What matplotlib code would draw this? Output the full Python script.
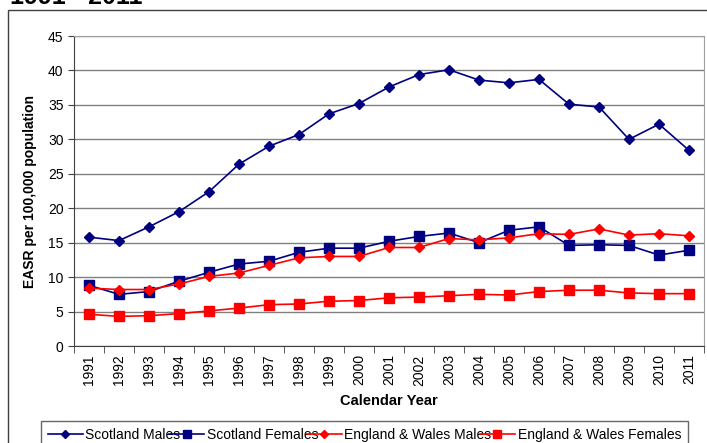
import matplotlib
matplotlib.use("Agg")
import matplotlib.pyplot as plt
from matplotlib.patches import Rectangle
from matplotlib.ticker import MultipleLocator, FixedLocator

plt.rcParams['font.family'] = ['Liberation Sans', 'DejaVu Sans']

years = [str(y) for y in range(1991, 2012)]
scotland_males = [15.8, 15.3, 17.3, 19.5, 22.4, 26.4, 29.0, 30.7, 33.7, 35.2, 37.6,
                  39.4, 40.1, 38.6, 38.2, 38.7, 35.1, 34.7, 30.0, 32.2, 28.4]
scotland_females = [8.8, 7.5, 7.9, 9.4, 10.7, 11.9, 12.3, 13.6, 14.2, 14.2, 15.2,
                    15.9, 16.4, 15.0, 16.8, 17.3, 14.6, 14.7, 14.6, 13.2, 13.9]
ew_males = [8.4, 8.2, 8.2, 9.0, 10.1, 10.6, 11.7, 12.8, 13.0, 13.0, 14.3,
            14.3, 15.6, 15.4, 15.7, 16.3, 16.2, 17.0, 16.1, 16.3, 16.0]
ew_females = [4.6, 4.3, 4.4, 4.7, 5.1, 5.5, 6.0, 6.1, 6.5, 6.6, 7.0,
              7.1, 7.3, 7.5, 7.4, 7.9, 8.1, 8.1, 7.7, 7.6, 7.6]

W, H = 707, 443
fig = plt.figure(figsize=(W / 100, H / 100), dpi=100)

# outer chart border
fig.patches.append(Rectangle((8 / W, -0.05), 1.2, (H - 10) / H + 0.05,
                             transform=fig.transFigure, fill=False,
                             edgecolor='#404040', linewidth=1.0, clip_on=False))

left, right, top, bottom = 74, 704, 36, 346
ax = fig.add_axes([left / W, (H - bottom) / H, (right - left) / W, (bottom - top) / H])

x = list(range(len(years)))
navy = '#000080'
red = '#FF0000'
ax.plot(x, scotland_males, color=navy, marker='D', markersize=5, lw=1.2, label='Scotland Males', zorder=4)
ax.plot(x, scotland_females, color=navy, marker='s', markersize=6.5, lw=1.2, label='Scotland Females', zorder=3)
ax.plot(x, ew_males, color=red, marker='D', markersize=5, lw=1.2, label='England & Wales Males', zorder=4)
ax.plot(x, ew_females, color=red, marker='s', markersize=6.5, lw=1.2, label='England & Wales Females', zorder=3)

ax.set_xlim(-0.5, len(years) - 0.5)
ax.set_ylim(0, 45)
ax.yaxis.set_major_locator(MultipleLocator(5))
ax.grid(axis='y', color='#808080', linewidth=1.0, zorder=0)
ax.set_axisbelow(True)

ax.set_xticks(x)
ax.set_xticklabels(years, rotation=90, fontsize=10)
ax.xaxis.set_minor_locator(FixedLocator([i - 0.5 for i in range(len(years) + 1)]))
ax.tick_params(axis='x', which='major', length=0, pad=6)
ax.tick_params(axis='x', which='minor', length=5, direction='out', color='#404040')
ax.tick_params(axis='y', length=4, direction='out', labelsize=10, color='#404040')

for s in ['top', 'right']:
    ax.spines[s].set_color('#a0a0a0')
for s in ['left', 'bottom']:
    ax.spines[s].set_color('#404040')

ax.set_xlabel('Calendar Year', fontsize=10.5, fontweight='bold', labelpad=6)
ax.set_ylabel('EASR per 100,000 population', fontsize=10, fontweight='bold', labelpad=8)

fig.text(10 / W, (H - 4) / H, '1991 - 2011', fontsize=18, fontweight='bold', va='baseline', ha='left')

leg = fig.legend(loc='upper left', bbox_to_anchor=(41 / W, 0, (688 - 41) / W, (H - 421) / H),
                 ncol=4, fontsize=10, frameon=True, fancybox=False, borderaxespad=0,
                 handlelength=2.5, handletextpad=0.2, columnspacing=1.6, borderpad=0.5,
                 mode='expand', markerscale=0.8)
leg._legend_box.align = 'center'
leg.get_frame().set_edgecolor('#404040')
leg.get_frame().set_linewidth(1.0)

fig.savefig('out.png', dpi=100)
